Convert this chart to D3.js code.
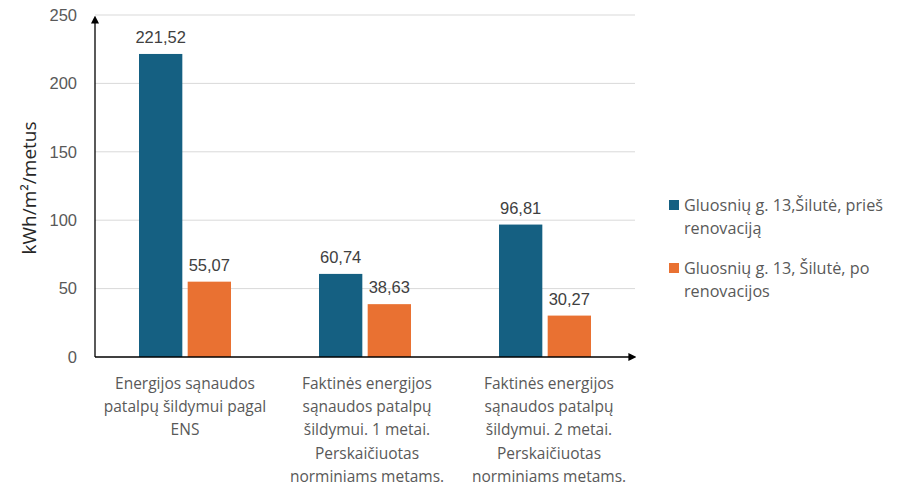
<!DOCTYPE html>
<html>
<head>
<meta charset="utf-8">
<script src="https://cdn.jsdelivr.net/npm/d3@7"></script>
<style>
  body { margin: 0; background: #fff; }
  svg { display: block; }
</style>
</head>
<body>
<svg id="chart" width="908" height="489"></svg>
<script>
// Heating energy use per m² per year, before and after renovation
const categories = [
  ["Energijos sąnaudos", "patalpų šildymui pagal", "ENS"],
  ["Faktinės energijos", "sąnaudos patalpų", "šildymui. 1 metai.", "Perskaičiuotas", "norminiams metams."],
  ["Faktinės energijos", "sąnaudos patalpų", "šildymui. 2 metai.", "Perskaičiuotas", "norminiams metams."]
];
const seriesNames = [
  ["Gluosnių g. 13,Šilutė, prieš", "renovaciją"],
  ["Gluosnių g. 13, Šilutė, po", "renovacijos"]
];
const beforeValues = [221.52, 60.74, 96.81];
const afterValues = [55.07, 38.63, 30.27];
const yTicks = [0, 50, 100, 150, 200, 250];
const colors = ["#156082", "#E97132"];

const svg = d3.select("#chart");
const margin = { left: 95, top: 15, right: 273, bottom: 132 };
const W = 908, H = 489;
const plotR = W - margin.right;   // 635
const plotB = H - margin.bottom;  // 357

const x = d3.scaleBand().domain(d3.range(categories.length)).range([margin.left, plotR]);
const y = d3.scaleLinear().domain([0, 250]).range([plotB, margin.top]);
const inner = d3.scaleBand().domain([0, 1]).range([0, 92]).paddingInner(0.11);

const numFont = "Liberation Sans, Arial, sans-serif";
const txtFont = "'Open Sans', 'Noto Sans', sans-serif";
const gray = "#595959";

// gridlines
svg.append("g").selectAll("line").data(yTicks.slice(1)).join("line")
  .attr("x1", margin.left).attr("x2", plotR)
  .attr("y1", d => y(d)).attr("y2", d => y(d))
  .attr("stroke", "#d9d9d9").attr("stroke-width", 1);

// y tick labels
svg.append("g").selectAll("text").data(yTicks).join("text")
  .attr("x", 77).attr("y", d => y(d)).attr("dy", "0.35em")
  .attr("text-anchor", "end")
  .attr("font-family", numFont).attr("font-size", 16.5).attr("fill", gray)
  .text(d => d);

// y axis title
svg.append("text")
  .attr("transform", `translate(36,${(margin.top + plotB) / 2 + 2}) rotate(-90)`)
  .attr("text-anchor", "middle")
  .attr("font-family", txtFont).attr("font-size", 19).attr("fill", "#262626")
  .text("kWh/m²/metus");

// bars
const data = categories.map((c, i) => [beforeValues[i], afterValues[i]]);
const groups = svg.append("g").selectAll("g").data(data).join("g")
  .attr("transform", (d, i) => `translate(${x(i) + x.bandwidth() / 2 - 46},0)`);

groups.selectAll("rect").data(d => d).join("rect")
  .attr("x", (d, j) => inner(j))
  .attr("width", inner.bandwidth())
  .attr("y", d => y(d))
  .attr("height", d => plotB - y(d))
  .attr("fill", (d, j) => colors[j]);

groups.selectAll("text").data(d => d).join("text")
  .attr("x", (d, j) => inner(j) + inner.bandwidth() / 2)
  .attr("y", d => y(d) - 11)
  .attr("text-anchor", "middle")
  .attr("font-family", numFont).attr("font-size", 16.5).attr("fill", "#404040")
  .text(d => d.toFixed(2).replace(".", ","));

// axes with arrows
const defs = svg.append("defs");
defs.append("marker").attr("id", "arrow")
  .attr("viewBox", "0 0 10 10").attr("refX", 2).attr("refY", 5)
  .attr("markerWidth", 8).attr("markerHeight", 8).attr("orient", "auto")
  .attr("markerUnits", "userSpaceOnUse")
  .append("path").attr("d", "M0,0L10,5L0,10Z").attr("fill", "#000");

svg.append("line")
  .attr("x1", margin.left).attr("x2", margin.left)
  .attr("y1", plotB).attr("y2", 22)
  .attr("stroke", "#000").attr("stroke-width", 1.3)
  .attr("marker-end", "url(#arrow)");
svg.append("line")
  .attr("x1", margin.left).attr("x2", 630)
  .attr("y1", plotB).attr("y2", plotB)
  .attr("stroke", "#000").attr("stroke-width", 1.3)
  .attr("marker-end", "url(#arrow)");

// category labels
const catCenters = [185, 367, 549];
svg.append("g").selectAll("text").data(categories).join("text")
  .attr("text-anchor", "middle")
  .attr("font-family", txtFont).attr("font-size", 15.5).attr("fill", gray)
  .each(function (lines, i) {
    d3.select(this).selectAll("tspan").data(lines).join("tspan")
      .attr("x", catCenters[i])
      .attr("y", (l, k) => 389 + k * 23.2)
      .text(l => l);
  });

// legend
const legend = svg.append("g").selectAll("g").data(seriesNames).join("g")
  .attr("transform", (d, i) => `translate(669,${200 + i * 63})`);
legend.append("rect").attr("width", 10).attr("height", 10)
  .attr("fill", (d, i) => colors[i]);
legend.append("text")
  .attr("font-family", txtFont).attr("font-size", 16.2).attr("fill", gray)
  .each(function (lines) {
    d3.select(this).selectAll("tspan").data(lines).join("tspan")
      .attr("x", 15).attr("y", (l, k) => 11 + k * 23)
      .text(l => l);
  });
</script>
</body>
</html>
